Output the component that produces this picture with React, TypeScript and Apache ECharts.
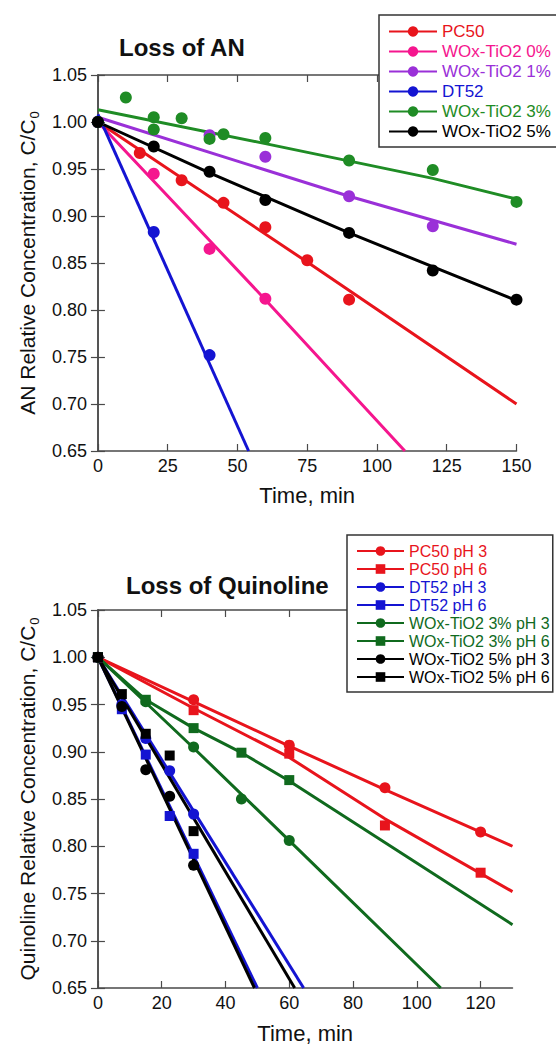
import React, { useEffect, useRef } from "react";
import * as echarts from "echarts";

const FONT = '"Liberation Sans", Arial, Helvetica, sans-serif';

// ---------- Colors ----------
const RED = "#e8141c";
const PINK = "#f5168e";
const PURPLE = "#9a30d8";
const BLUE = "#1414d2";
const GREEN_TOP = "#1f8c25";
const GREEN_BOT = "#106a1e";
const BLACK = "#000000";

// ---------- Top chart (Loss of AN) ----------
const anXTicks = [0, 25, 50, 75, 100, 125, 150];
const anNames = ["PC50", "WOx-TiO2 0%", "WOx-TiO2 1%", "DT52", "WOx-TiO2 3%", "WOx-TiO2 5%"];

const anPc50T = [0, 15, 30, 45, 60, 75, 90];
const anPc50V = [1.0, 0.967, 0.938, 0.914, 0.888, 0.853, 0.811];
const anW0T = [0, 20, 40, 60];
const anW0V = [1.0, 0.945, 0.865, 0.812];
const anW1T = [0, 40, 60, 90, 120];
const anW1V = [1.0, 0.986, 0.963, 0.921, 0.889];
const anDt52T = [0, 20, 40];
const anDt52V = [1.0, 0.883, 0.752];
const anW3T = [0, 10, 20, 20, 30, 40, 45, 60, 90, 120, 150];
const anW3V = [1.0, 1.026, 1.005, 0.992, 1.004, 0.982, 0.987, 0.983, 0.959, 0.949, 0.915];
const anW5T = [0, 20, 40, 60, 90, 120, 150];
const anW5V = [1.0, 0.974, 0.947, 0.917, 0.882, 0.842, 0.811];

// fitted curves
const anPc50FitT = [0, 75, 150];
const anPc50FitV = [1.0, 0.851, 0.7];
const anW0FitT = [0, 60, 110];
const anW0FitV = [1.0, 0.811, 0.65];
const anW1FitT = [0, 90, 150];
const anW1FitV = [1.005, 0.921, 0.87];
const anDt52FitT = [0, 54];
const anDt52FitV = [1.008, 0.65];
const anW3FitT = [0, 60, 120, 150];
const anW3FitV = [1.013, 0.977, 0.94, 0.918];
const anW5FitT = [0, 40, 90, 150];
const anW5FitV = [1.0, 0.946, 0.882, 0.81];

// ---------- Bottom chart (Loss of Quinoline) ----------
const qNames = [
  "PC50 pH 3",
  "PC50 pH 6",
  "DT52 pH 3",
  "DT52 pH 6",
  "WOx-TiO2 3% pH 3",
  "WOx-TiO2 3% pH 6",
  "WOx-TiO2 5% pH 3",
  "WOx-TiO2 5% pH 6",
];

const qPc50p3T = [0, 30, 60, 90, 120];
const qPc50p3V = [1.0, 0.955, 0.907, 0.862, 0.815];
const qPc50p6T = [0, 30, 60, 90, 120];
const qPc50p6V = [1.0, 0.944, 0.898, 0.822, 0.772];
const qDt52p3T = [0, 7.5, 15, 22.5, 30];
const qDt52p3V = [1.0, 0.95, 0.914, 0.88, 0.834];
const qDt52p6T = [0, 7.5, 15, 22.5, 30];
const qDt52p6V = [1.0, 0.945, 0.897, 0.832, 0.792];
const qW3p3T = [0, 15, 30, 45, 60];
const qW3p3V = [1.0, 0.953, 0.905, 0.85, 0.806];
const qW3p6T = [0, 15, 30, 45, 60];
const qW3p6V = [1.0, 0.955, 0.925, 0.899, 0.87];
const qW5p3T = [0, 7.5, 15, 22.5, 30];
const qW5p3V = [1.0, 0.948, 0.881, 0.853, 0.78];
const qW5p6T = [0, 7.5, 15, 22.5, 30];
const qW5p6V = [1.0, 0.961, 0.919, 0.896, 0.816];

const qPc50p3FitT = [0, 30, 60, 90, 130];
const qPc50p3FitV = [1.0, 0.953, 0.906, 0.86, 0.8];
const qPc50p6FitT = [0, 30, 60, 90, 130];
const qPc50p6FitV = [1.0, 0.946, 0.894, 0.829, 0.752];
const qDt52p3FitT = [0, 64.5];
const qDt52p3FitV = [1.0, 0.65];
const qDt52p6FitT = [0, 50];
const qDt52p6FitV = [1.0, 0.65];
const qW3p3FitT = [0, 30, 60, 107.5];
const qW3p3FitV = [1.0, 0.904, 0.806, 0.65];
const qW3p6FitT = [0, 15, 30, 45, 60, 130];
const qW3p6FitV = [1.0, 0.955, 0.925, 0.899, 0.869, 0.717];
const qW5p3FitT = [0, 49.1];
const qW5p3FitV = [1.0, 0.65];
const qW5p6FitT = [0, 61.7];
const qW5p6FitV = [1.0, 0.65];

const zip = (t: number[], v: number[]) => t.map((x, i) => [x, v[i]]);

function fitSeries(name: string, t: number[], v: number[], color: string, symbol: string, axis: number) {
  return {
    type: "line",
    name,
    data: zip(t, v),
    xAxisIndex: axis,
    yAxisIndex: axis,
    showSymbol: false,
    symbol,
    symbolSize: 11,
    lineStyle: { color, width: 3 },
    itemStyle: { color },
    silent: true,
    z: 2,
  };
}

function pointSeries(name: string, t: number[], v: number[], color: string, symbol: string, size: number, axis: number) {
  return {
    type: "scatter",
    name: name + " (data)",
    data: zip(t, v),
    xAxisIndex: axis,
    yAxisIndex: axis,
    symbol,
    symbolSize: size,
    itemStyle: { color, opacity: 1 },
    silent: true,
    z: 3,
  };
}

const AXIS_COLOR = "#4a4a4a";
const axisLine = { show: true, lineStyle: { color: AXIS_COLOR, width: 1.5 } };
const axisTick = { show: true, inside: true, length: 7, lineStyle: { color: AXIS_COLOR, width: 1.2 } };

function yName(text: string) {
  return `{a|${text}}{s|0}`;
}

const yRich = {
  a: { fontSize: 21, fontFamily: FONT, color: "#111", lineHeight: 24, verticalAlign: "top" },
  s: { fontSize: 13, fontFamily: FONT, color: "#111", lineHeight: 13, padding: [20, 0, 0, 1], verticalAlign: "bottom" },
};

export default function App() {
  const ref = useRef<HTMLDivElement>(null);

  useEffect(() => {
    document.body.style.margin = "0";
    if (!ref.current) return;
    const chart = echarts.init(ref.current, undefined, { renderer: "svg" });

    const anColors = [RED, PINK, PURPLE, BLUE, GREEN_TOP, BLACK];
    const qColors = [RED, RED, BLUE, BLUE, GREEN_BOT, GREEN_BOT, BLACK, BLACK];
    const qSymbols = ["circle", "rect", "circle", "rect", "circle", "rect", "circle", "rect"];

    const tickLabel = { fontSize: 18, color: "#111", fontFamily: FONT };

    const option: any = {
      animation: false,
      backgroundColor: "#ffffff",
      textStyle: { fontFamily: FONT },
      title: [
        {
          text: "Loss of AN",
          left: 119,
          top: 35,
          padding: 0,
          textStyle: { fontSize: 24, fontWeight: "bold", color: "#111", fontFamily: FONT },
        },
        {
          text: "Loss of Quinoline",
          left: 126,
          top: 573,
          padding: 0,
          textStyle: { fontSize: 24, fontWeight: "bold", color: "#111", fontFamily: FONT },
        },
      ],
      legend: [
        {
          orient: "vertical",
          left: 379,
          top: 15,
          padding: [8, 14, 7, 9],
          itemWidth: 48,
          itemHeight: 13,
          itemGap: 3,
          borderColor: "#333",
          borderWidth: 1.5,
          backgroundColor: "#fff",
          selectedMode: false,
          textStyle: { fontSize: 17, fontFamily: FONT },
          data: anNames.map((n, i) => ({ name: n, textStyle: { color: anColors[i] } })),
        },
        {
          orient: "vertical",
          left: 347,
          top: 535,
          padding: [8, 3, 7, 9],
          itemWidth: 47,
          itemHeight: 12,
          itemGap: 2,
          borderColor: "#333",
          borderWidth: 1.5,
          backgroundColor: "#fff",
          selectedMode: false,
          textStyle: { fontSize: 16, fontFamily: FONT },
          data: qNames.map((n, i) => ({ name: n, textStyle: { color: qColors[i] } })),
        },
      ],
      grid: [
        { left: 95, top: 75, width: 421.5, height: 376, containLabel: false },
        { left: 96.5, top: 610, width: 416, height: 378, containLabel: false },
      ],
      xAxis: [
        {
          gridIndex: 0,
          type: "value",
          position: "bottom",
          min: anXTicks[0],
          max: anXTicks[anXTicks.length - 1],
          interval: 25,
          axisLine,
          axisTick,
          splitLine: { show: false },
          axisLabel: { ...tickLabel, margin: 6 },
          name: "Time, min",
          nameLocation: "middle",
          nameGap: 33,
          nameTextStyle: { fontSize: 22, color: "#111", fontFamily: FONT },
        },
        {
          gridIndex: 0,
          type: "value",
          position: "top",
          min: 0,
          max: 150,
          interval: 25,
          axisLine,
          axisTick,
          splitLine: { show: false },
          axisLabel: { show: false },
        },
        {
          gridIndex: 1,
          type: "value",
          position: "bottom",
          min: 0,
          max: 130,
          interval: 20,
          axisLine,
          axisTick,
          splitLine: { show: false },
          axisLabel: {
            ...tickLabel,
            margin: 6,
            showMaxLabel: false,
            formatter: (v: number) => (v % 20 === 0 ? String(v) : ""),
          },
          name: "Time, min",
          nameLocation: "middle",
          nameGap: 34,
          nameTextStyle: { fontSize: 22, color: "#111", fontFamily: FONT },
        },
        {
          gridIndex: 1,
          type: "value",
          position: "top",
          min: 0,
          max: 130,
          interval: 20,
          axisLine,
          axisTick,
          splitLine: { show: false },
          axisLabel: { show: false },
        },
      ],
      yAxis: [
        {
          gridIndex: 0,
          type: "value",
          position: "left",
          min: 0.65,
          max: 1.05,
          interval: 0.05,
          axisLine,
          axisTick,
          splitLine: { show: false },
          axisLabel: { ...tickLabel, margin: 11, formatter: (v: number) => v.toFixed(2) },
          name: yName("AN Relative Concentration, C/C"),
          nameLocation: "middle",
          nameRotate: 90,
          nameGap: 55,
          nameTextStyle: { rich: yRich },
        },
        {
          gridIndex: 0,
          type: "value",
          position: "right",
          min: 0.65,
          max: 1.05,
          interval: 0.05,
          axisLine,
          axisTick,
          splitLine: { show: false },
          axisLabel: { show: false },
        },
        {
          gridIndex: 1,
          type: "value",
          position: "left",
          min: 0.65,
          max: 1.05,
          interval: 0.05,
          axisLine,
          axisTick,
          splitLine: { show: false },
          axisLabel: { ...tickLabel, margin: 11, formatter: (v: number) => v.toFixed(2) },
          name: yName("Quinoline Relative Concentration, C/C"),
          nameLocation: "middle",
          nameRotate: 90,
          nameGap: 56,
          nameTextStyle: { rich: yRich },
        },
        {
          gridIndex: 1,
          type: "value",
          position: "right",
          min: 0.65,
          max: 1.05,
          interval: 0.05,
          axisLine,
          axisTick,
          splitLine: { show: false },
          axisLabel: { show: false },
        },
      ],
      series: [
        // top fits
        fitSeries(anNames[0], anPc50FitT, anPc50FitV, RED, "circle", 0),
        fitSeries(anNames[1], anW0FitT, anW0FitV, PINK, "circle", 0),
        fitSeries(anNames[2], anW1FitT, anW1FitV, PURPLE, "circle", 0),
        fitSeries(anNames[3], anDt52FitT, anDt52FitV, BLUE, "circle", 0),
        fitSeries(anNames[4], anW3FitT, anW3FitV, GREEN_TOP, "circle", 0),
        fitSeries(anNames[5], anW5FitT, anW5FitV, BLACK, "circle", 0),
        // top points
        pointSeries(anNames[0], anPc50T, anPc50V, RED, "circle", 12, 0),
        pointSeries(anNames[1], anW0T, anW0V, PINK, "circle", 12, 0),
        pointSeries(anNames[2], anW1T, anW1V, PURPLE, "circle", 12, 0),
        pointSeries(anNames[3], anDt52T, anDt52V, BLUE, "circle", 12, 0),
        pointSeries(anNames[4], anW3T, anW3V, GREEN_TOP, "circle", 12, 0),
        pointSeries(anNames[5], anW5T, anW5V, BLACK, "circle", 12, 0),
        // bottom fits
        fitSeries(qNames[0], qPc50p3FitT, qPc50p3FitV, RED, qSymbols[0], 2),
        fitSeries(qNames[1], qPc50p6FitT, qPc50p6FitV, RED, qSymbols[1], 2),
        fitSeries(qNames[2], qDt52p3FitT, qDt52p3FitV, BLUE, qSymbols[2], 2),
        fitSeries(qNames[3], qDt52p6FitT, qDt52p6FitV, BLUE, qSymbols[3], 2),
        fitSeries(qNames[4], qW3p3FitT, qW3p3FitV, GREEN_BOT, qSymbols[4], 2),
        fitSeries(qNames[5], qW3p6FitT, qW3p6FitV, GREEN_BOT, qSymbols[5], 2),
        fitSeries(qNames[6], qW5p3FitT, qW5p3FitV, BLACK, qSymbols[6], 2),
        fitSeries(qNames[7], qW5p6FitT, qW5p6FitV, BLACK, qSymbols[7], 2),
        // bottom points
        pointSeries(qNames[0], qPc50p3T, qPc50p3V, RED, "circle", 11, 2),
        pointSeries(qNames[1], qPc50p6T, qPc50p6V, RED, "rect", 10, 2),
        pointSeries(qNames[2], qDt52p3T, qDt52p3V, BLUE, "circle", 11, 2),
        pointSeries(qNames[3], qDt52p6T, qDt52p6V, BLUE, "rect", 10, 2),
        pointSeries(qNames[4], qW3p3T, qW3p3V, GREEN_BOT, "circle", 11, 2),
        pointSeries(qNames[5], qW3p6T, qW3p6V, GREEN_BOT, "rect", 10, 2),
        pointSeries(qNames[6], qW5p3T, qW5p3V, BLACK, "circle", 11, 2),
        pointSeries(qNames[7], qW5p6T, qW5p6V, BLACK, "rect", 10, 2),
      ],
    };

    chart.setOption(option);
    return () => chart.dispose();
  }, []);

  return <div ref={ref} style={{ width: 556, height: 1045, position: "absolute", left: 0, top: 0 }} />;
}
